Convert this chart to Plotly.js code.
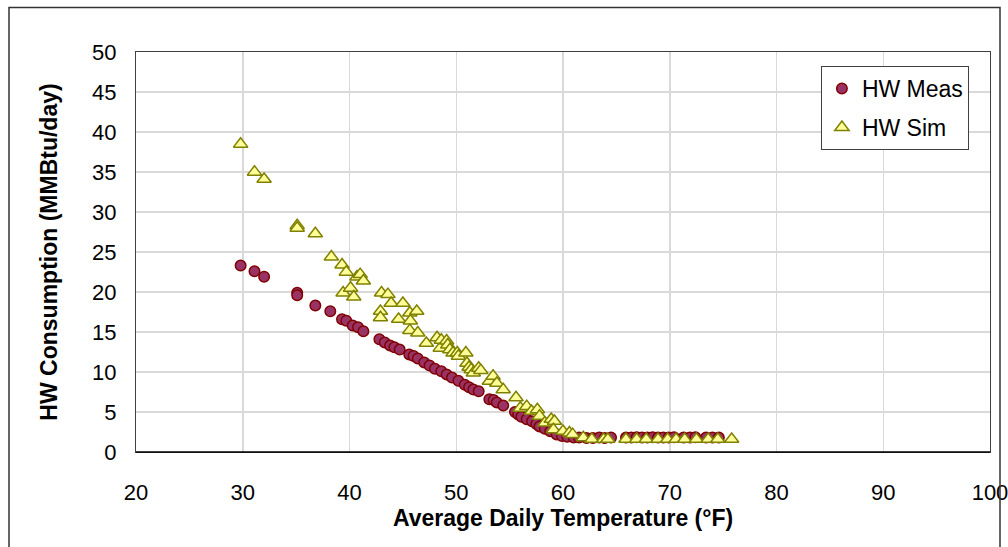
<!DOCTYPE html>
<html>
<head>
<meta charset="utf-8">
<script src="https://cdn.plot.ly/plotly-3.0.1.min.js"></script>
<style>
html,body{margin:0;padding:0;background:#fff;}
#chart{width:1008px;height:547px;}
</style>
</head>
<body>
<div id="chart"></div>
<script>
const measTemp = [29.8,31.1,32.0,35.1,35.1,36.8,38.2,39.3,39.7,40.3,40.8,41.3,42.8,43.3,43.8,44.2,44.7,45.6,46.0,46.4,47.0,47.5,48.0,48.6,49.1,49.6,50.2,50.8,51.2,51.6,52.1,53.1,53.5,53.8,54.4,55.5,55.8,56.1,56.6,57.1,57.5,57.8,58.3,58.8,59.4,59.9,60.4,61.0,61.5,62.2,62.8,63.4,63.9,64.5,65.9,66.4,66.9,67.4,67.9,68.4,68.9,69.4,69.9,70.4,71.3,71.9,72.4,73.4,74.0,74.6];
const measHW = [23.3,22.6,21.9,19.9,19.6,18.3,17.6,16.6,16.4,15.8,15.6,15.1,14.1,13.7,13.3,13.1,12.8,12.2,12.0,11.7,11.2,10.8,10.4,10.1,9.7,9.3,8.9,8.4,8.1,7.8,7.6,6.6,6.5,6.2,5.8,5.0,4.7,4.4,4.1,3.85,3.5,3.2,2.9,2.6,2.2,2.0,1.9,1.8,1.8,1.75,1.75,1.8,1.75,1.8,1.8,1.8,1.85,1.8,1.8,1.85,1.8,1.8,1.8,1.85,1.8,1.8,1.85,1.8,1.8,1.8];

const simTemp = [29.8,31.1,32.0,35.1,35.1,36.8,38.3,39.3,39.7,39.4,40.1,40.4,40.7,41.0,41.3,42.9,42.9,43.0,43.6,43.9,44.6,45.0,45.65,45.7,45.65,46.3,46.4,47.2,48.2,48.5,48.6,49.1,49.2,49.4,49.7,50.1,50.2,50.9,51.0,51.2,51.4,51.6,52.1,52.3,53.1,53.45,53.8,54.4,55.6,56.0,56.6,57.05,57.6,57.8,58.3,58.9,59.2,59.1,60.0,60.6,60.9,61.9,62.7,63.8,64.2,65.9,66.9,67.8,68.9,69.8,70.6,71.4,72.5,73.6,74.5,75.8];
const simHW = [38.5,35.0,34.1,28.3,28.0,27.3,24.4,23.4,22.5,19.9,20.5,19.4,21.9,22.2,21.4,17.6,16.8,19.9,19.7,18.6,16.6,18.6,17.4,16.4,15.2,17.6,14.9,13.6,14.3,13.0,14.0,13.9,13.4,12.8,12.4,12.4,12.0,12.4,11.1,10.6,10.3,9.9,10.5,10.2,8.85,9.5,8.6,7.8,6.8,5.5,5.7,5.1,5.3,4.5,3.65,4.1,3.85,2.8,2.6,2.4,2.2,1.8,1.6,1.6,1.6,1.6,1.6,1.6,1.6,1.6,1.6,1.6,1.6,1.6,1.6,1.6];

const xTicks = [20,30,40,50,60,70,80,90,100];
const yTicks = [0,5,10,15,20,25,30,35,40,45,50];

const FONT = 'Arial, "Liberation Sans", Helvetica, sans-serif';

const traces = [
  {
    x: measTemp, y: measHW, type: 'scatter', mode: 'markers', name: 'HW Meas',
    legendgroup: 'a',
    marker: {symbol: 'circle', size: 10.5, color: '#993366', line: {color: '#800000', width: 1.5}}
  },
  {
    x: simTemp, y: simHW, type: 'scatter', mode: 'markers', name: 'HW Sim',
    legendgroup: 'b',
    marker: {symbol: 'triangle-up', size: 12.5, color: '#FFFF99', line: {color: '#808000', width: 1.5}}
  }
];

const layout = {
  width: 1008, height: 547,
  margin: {l: 136, r: 18, t: 52, b: 94.5},
  paper_bgcolor: '#fff', plot_bgcolor: '#fff',
  font: {family: FONT, size: 22, color: '#000'},
  showlegend: true,
  legend: {
    x: 0.802, y: 0.965, xanchor: 'left', yanchor: 'top',
    bgcolor: '#fff', bordercolor: '#404040', borderwidth: 1,
    font: {family: FONT, size: 23, color: '#000'},
    tracegroupgap: 6
  },
  xaxis: {
    range: [20, 100], tickvals: xTicks, ticktext: xTicks.map(String),
    showgrid: true, gridcolor: '#d9d9d9', gridwidth: 1.5,
    zeroline: false, showline: true, linecolor: '#404040', linewidth: 1, mirror: true,
    ticks: '', ticklabelstandoff: 21, ticklabeloverflow: 'allow',
    tickfont: {family: FONT, size: 22},
    title: {text: 'Average Daily Temperature (°F)', font: {family: FONT, size: 23, weight: 'bold'}, standoff: 2}
  },
  yaxis: {
    range: [0, 50], tickvals: yTicks, ticktext: yTicks.map(String),
    showgrid: true, gridcolor: '#d9d9d9', gridwidth: 1.5,
    zeroline: false, showline: true, linecolor: '#404040', linewidth: 1, mirror: true,
    ticks: '', ticklabelstandoff: 14, ticklabeloverflow: 'allow',
    tickfont: {family: FONT, size: 22},
    title: {text: 'HW Consumption (MMBtu/day)', font: {family: FONT, size: 23, weight: 'bold'}, standoff: 28}
  },
  shapes: [
    {type: 'line', xref: 'paper', yref: 'paper', x0: 0, x1: 1, y0: 0, y1: 0, line: {color: '#000', width: 1.5}},
    {type: 'rect', xref: 'paper', yref: 'paper',
     x0: (9 - 136) / 854, x1: (1000 - 136) / 854,
     y0: (452.5 - 560) / 400.5, y1: (452.5 - 7.5) / 400.5,
     line: {color: '#333', width: 1.5}, fillcolor: 'rgba(0,0,0,0)', layer: 'above'}
  ]
};

Plotly.newPlot('chart', traces, layout, {displayModeBar: false, staticPlot: true});
</script>
</body>
</html>
